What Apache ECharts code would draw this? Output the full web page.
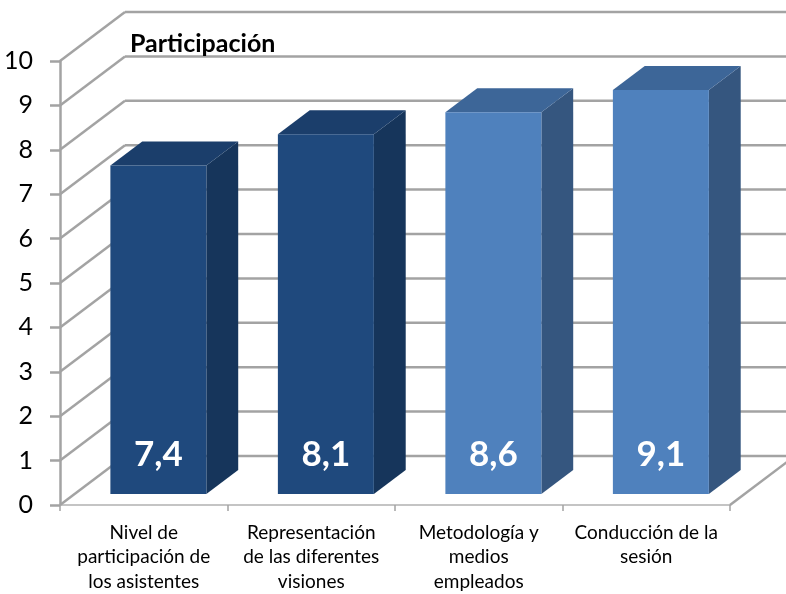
<!DOCTYPE html>
<html>
<head>
<meta charset="utf-8">
<script src="https://cdn.jsdelivr.net/npm/echarts@6/dist/echarts.min.js"></script>
<style>
  html, body { margin: 0; padding: 0; background: #ffffff; }
  #chart { width: 786px; height: 594px; }
</style>
</head>
<body>
<div id="chart"></div>
<script>
// Categories (line breaks as shown under the axis)
const categories = [
  'Nivel de\nparticipación de\nlos asistentes',
  'Representación\nde las diferentes\nvisiones',
  'Metodología y\nmedios\nempleados',
  'Conducción de la\nsesión'
];
// Scores
const scores = [7.4, 8.1, 8.6, 9.1];
// Value labels shown on the bars
const scoreLabels = ['7,4', '8,1', '8,6', '9,1'];
// Value axis ticks
const yTicks = [0, 1, 2, 3, 4, 5, 6, 7, 8, 9, 10];

// 3D look: depth of the plot box in pixels and the slab the bars occupy
const DEPTH_X = 65, DEPTH_Y = -49;
const BAR_FRONT = 0.225, BAR_BACK = 0.715;
const BAR_RATIO = 0.573;
const WALL_COLOR = '#a3a3a3';

const barStyles = [
  { front: '#1f497d', top: '#1b3e6b', side: '#16355b' },
  { front: '#1f497d', top: '#1b3e6b', side: '#16355b' },
  { front: '#4f81bd', top: '#3d6698', side: '#35567f' },
  { front: '#4f81bd', top: '#3d6698', side: '#35567f' }
];

const FONT = 'Lato, "Open Sans", sans-serif';

const chart = echarts.init(document.getElementById('chart'), null, { renderer: 'canvas' });

function renderWalls(params, api) {
  const cs = params.coordSys;
  const x0 = cs.x, x1 = cs.x + cs.width;
  const children = [];
  const lineStyle = { stroke: WALL_COLOR, lineWidth: 2.5 };
  yTicks.forEach(function (v) {
    const y = api.coord([0, v])[1];
    // left side wall
    children.push({ type: 'line', shape: { x1: x0, y1: y, x2: x0 + DEPTH_X, y2: y + DEPTH_Y }, style: lineStyle, silent: true });
    // back wall
    children.push({ type: 'line', shape: { x1: x0 + DEPTH_X, y1: y + DEPTH_Y, x2: x1 + DEPTH_X + 20, y2: y + DEPTH_Y }, style: lineStyle, silent: true });
  });
  // floor right edge
  const yb = api.coord([0, 0])[1];
  children.push({ type: 'line', shape: { x1: x1, y1: yb, x2: x1 + DEPTH_X, y2: yb + DEPTH_Y }, style: lineStyle, silent: true });
  return { type: 'group', children: children };
}

function renderBar(params, api) {
  const i = api.value(0);
  const v = api.value(1);
  const base = api.coord([i, 0]);
  const top = api.coord([i, v]);
  const hw = api.size([1, 0])[0] * BAR_RATIO / 2;
  const L = base[0] - hw, R = base[0] + hw;
  const T = top[1], B = base[1];
  const fx = BAR_FRONT * DEPTH_X, fy = BAR_FRONT * DEPTH_Y;
  const bx = BAR_BACK * DEPTH_X, by = BAR_BACK * DEPTH_Y;
  const st = barStyles[params.dataIndex];
  return {
    type: 'group',
    children: [
      {
        type: 'polygon',
        shape: { points: [[R + fx, T + fy], [R + bx, T + by], [R + bx, B + by], [R + fx, B + fy]] },
        style: { fill: st.side }
      },
      {
        type: 'polygon',
        shape: { points: [[L + fx, T + fy], [R + fx, T + fy], [R + bx, T + by], [L + bx, T + by]] },
        style: { fill: st.top }
      },
      {
        type: 'rect',
        shape: { x: L + fx, y: T + fy, width: R - L, height: B - T },
        style: { fill: st.front }
      },
      {
        type: 'text',
        style: {
          x: (L + R) / 2 + fx,
          y: B + fy - 39,
          text: scoreLabels[params.dataIndex],
          fill: '#ffffff',
          font: 'bold 35px ' + FONT,
          align: 'center',
          verticalAlign: 'middle'
        }
      }
    ]
  };
}

const option = {
  backgroundColor: '#ffffff',
  animation: false,
  title: {
    text: 'Participación',
    left: 125,
    top: 26,
    textStyle: { fontFamily: FONT, fontWeight: 'bold', fontSize: 25, color: '#000000' }
  },
  grid: { left: 60, right: 56, top: 61, bottom: 85.5, containLabel: false },
  xAxis: {
    type: 'category',
    data: categories,
    boundaryGap: true,
    axisLine: { show: true, lineStyle: { color: '#c4c4c4', width: 2 } },
    axisTick: { show: true, length: 6, lineStyle: { color: '#a3a3a3', width: 1.5 } },
    axisLabel: {
      fontFamily: FONT,
      fontSize: 19,
      lineHeight: 24.5,
      color: '#000000',
      margin: 15.5,
      interval: 0
    },
    splitLine: { show: false }
  },
  yAxis: {
    type: 'value',
    min: 0,
    max: 10,
    interval: 1,
    axisLine: { show: true, lineStyle: { color: '#a3a3a3', width: 2.5 } },
    axisTick: { show: true, length: 10, lineStyle: { color: '#a3a3a3', width: 2.5 } },
    axisLabel: { fontFamily: FONT, fontSize: 25, color: '#000000', margin: 27 },
    splitLine: { show: false }
  },
  series: [
    {
      type: 'custom',
      renderItem: renderWalls,
      data: [[0, 0]],
      z: 1,
      silent: true
    },
    {
      type: 'custom',
      renderItem: renderBar,
      data: scores.map(function (v, i) { return [i, v]; }),
      z: 2
    }
  ]
};

chart.setOption(option);
</script>
</body>
</html>
